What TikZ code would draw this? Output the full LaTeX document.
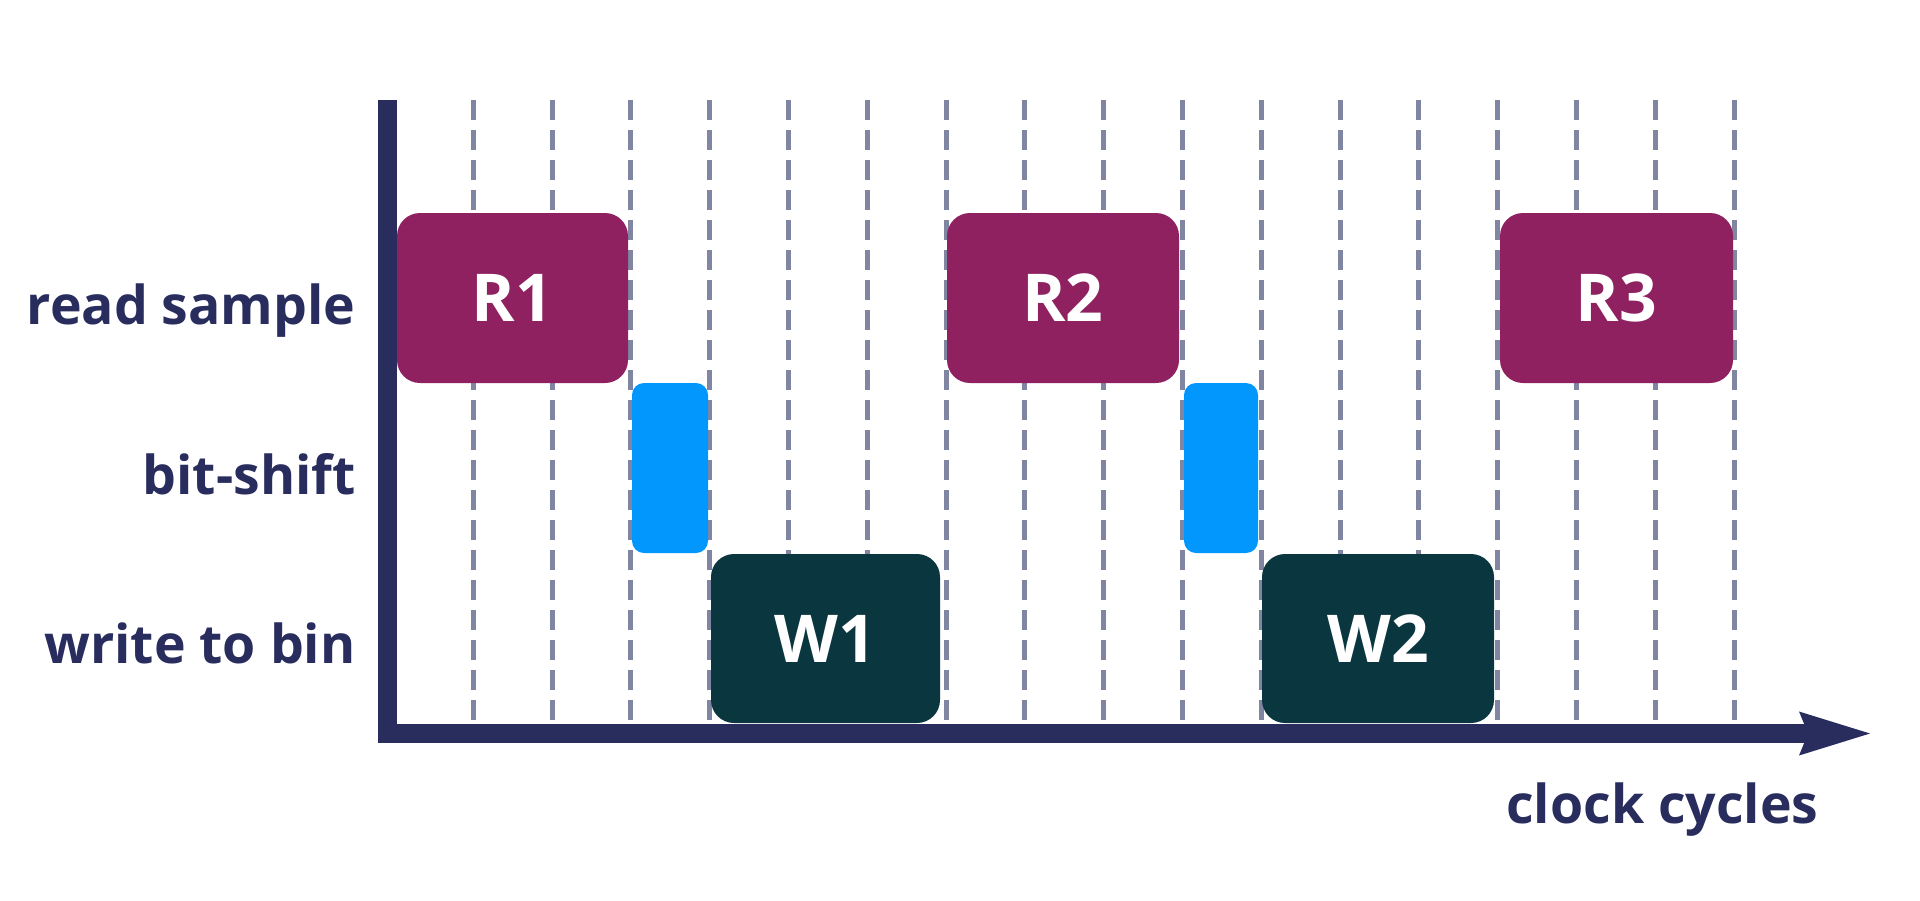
\documentclass[tikz,border=0pt]{standalone}
\usepackage{fontspec}
\setmainfont{Open Sans}
\usetikzlibrary{arrows.meta}
\definecolor{navy}{HTML}{282D5E}
\definecolor{gridgray}{HTML}{8086A2}
\definecolor{readcol}{HTML}{8F2160}
\definecolor{shiftcol}{HTML}{0197FD}
\definecolor{writecol}{HTML}{0A363F}
\tikzset{
  gridline/.style={draw=gridgray, line width=2.5pt, dash pattern=on 10pt off 5pt},
  axisline/.style={draw=navy, line width=9.5pt, line join=miter,
    -{Stealth[length=35.5pt, width=22pt, inset=4.5pt, line width=0pt]}},
  labeltext/.style={text=navy, inner sep=0pt,
    font=\fontsize{26.8}{32}\selectfont\bfseries},
  rowlabel/.style={labeltext, anchor=base east},
  boxbase/.style={inner sep=0pt, text=white,
    font=\fontsize{33}{40}\selectfont\bfseries},
  readbox/.style={boxbase, fill=readcol, rounded corners=11.5pt, minimum height=85pt},
  shiftbox/.style={boxbase, fill=shiftcol, rounded corners=6pt, minimum height=85pt},
  writebox/.style={boxbase, fill=writecol, rounded corners=11.5pt, minimum height=84.5pt},
}
\begin{document}
\begin{tikzpicture}[x=0.5pt, y=-0.5pt]
\useasboundingbox (0,0) rectangle (1920,900);
% grid lines
\foreach \k in {1,...,17} {
  \draw[gridline] ({394.5+78.8*\k},100) -- ({394.5+78.8*\k},720);
}
% axes
\coordinate (top) at (387,100);
\coordinate (corner) at (387,733.5);
\coordinate (tip) at (1870,733.5);
\draw[axisline] (top) -- (corner) -- (tip);
% row labels
\node[rowlabel] (lread) at (356,324) {read sample};
\node[rowlabel] (lshift) at (356,494) {bit-shift};
\node[rowlabel] (lwrite) at (356,663) {write to bin};
\node[labeltext, anchor=base west] (lclock) at (1506,823) {clock cycles};
% boxes
\node[readbox, minimum width=115.5pt] (R1) at (512.5,298) {R1};
\node[shiftbox, minimum width=38pt] (B1) at (670,468) {};
\node[writebox, minimum width=114.5pt] (W1) at (825.5,638.5) {W1};
\node[readbox, minimum width=116pt] (R2) at (1063,298) {R2};
\node[shiftbox, minimum width=37pt] (B2) at (1221,468) {};
\node[writebox, minimum width=116pt] (W2) at (1378,638.5) {W2};
\node[readbox, minimum width=116.5pt] (R3) at (1616.5,298) {R3};
\end{tikzpicture}
\end{document}
